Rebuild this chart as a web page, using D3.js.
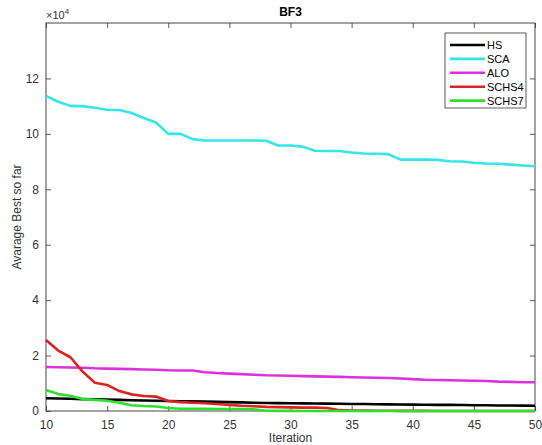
<!DOCTYPE html>
<html><head><meta charset="utf-8">
<script src="https://cdn.jsdelivr.net/npm/d3@7"></script>
<style>
html,body{margin:0;padding:0;background:#fff;}
svg{display:block;font-family:"Liberation Sans",Arial,Helvetica,sans-serif;}
</style></head>
<body><svg id="chart" width="542" height="445"></svg>
<script>
const iterations = d3.range(10, 51);
const HS = [4600,4500,4400,4300,4200,4100,4000,3900,3800,3700,3600,3500,3500,3400,3300,3200,3100,3000,2900,2850,2800,2750,2700,2650,2600,2550,2500,2450,2400,2350,2300,2250,2200,2200,2150,2100,2050,2000,2000,1950,1900];
const SCA = [113700,111600,110100,110000,109400,108700,108600,107500,105700,104100,100000,100000,98100,97600,97600,97600,97600,97600,97500,95800,95800,95400,93900,93800,93800,93300,92900,92800,92700,90700,90700,90700,90600,90100,90000,89600,89300,89200,88900,88600,88300];
const ALO = [15900,15800,15700,15600,15400,15300,15200,15100,15000,14900,14700,14600,14600,14000,13700,13500,13300,13100,12900,12800,12700,12600,12500,12400,12300,12200,12100,12000,11900,11700,11500,11300,11200,11100,11000,10900,10800,10600,10500,10400,10400];
const SCHS4 = [25600,21800,19400,14200,10200,9400,7200,6000,5400,5200,3600,3200,3000,2800,2500,2200,1900,1700,1500,1400,1300,1200,1200,1100,300,200,150,100,80,50,40,30,20,20,10,10,10,10,10,10,10];
const SCHS7 = [7600,6100,5500,4300,4000,3700,3000,2100,1800,1600,1100,800,800,800,700,700,700,600,100,50,30,20,20,10,10,10,10,10,10,10,10,10,10,10,10,10,10,10,10,10,10];
const seriesNames = ["HS","SCA","ALO","SCHS4","SCHS7"];
const seriesColors = ["#000000","#35e6e6","#dc32dc","#dc2222","#2ee02e"];
const xTicks = [10,15,20,25,30,35,40,45,50];
const yTicks = [0,20000,40000,60000,80000,100000,120000];
const title = "BF3";
const xLabel = "Iteration";
const yLabel = "Avarage Best so far";

const seriesData = [HS, SCA, ALO, SCHS4, SCHS7];
const svg = d3.select("#chart");
const L = 46, R = 535, T = 23, B = 411;
const x = d3.scaleLinear().domain([10, 50]).range([L, R]);
const y = d3.scaleLinear().domain([0, 140000]).range([B, T]);
const axisColor = "#333";

// axes
const gx = svg.append("g").attr("transform", `translate(0,${B})`)
  .call(d3.axisBottom(x).tickValues(xTicks).tickSizeInner(-5).tickSizeOuter(0).tickPadding(9));
const gxTop = svg.append("g").attr("transform", `translate(0,${T})`)
  .call(d3.axisTop(x).tickValues(xTicks).tickSizeInner(-5).tickSizeOuter(0).tickFormat(""));
const gy = svg.append("g").attr("transform", `translate(${L},0)`)
  .call(d3.axisLeft(y).tickValues(yTicks).tickSizeInner(-5).tickSizeOuter(0).tickPadding(7).tickFormat(d => d / 10000));
const gyR = svg.append("g").attr("transform", `translate(${R},0)`)
  .call(d3.axisRight(y).tickValues(yTicks).tickSizeInner(-5).tickSizeOuter(0).tickFormat(""));
[gx, gxTop, gy, gyR].forEach(g => {
  g.select(".domain").remove();
  g.selectAll("line").attr("stroke", axisColor).attr("stroke-width", 0.8);
  g.selectAll("text").attr("fill", "#333").style("font-size", "12px")
    .style("font-family", '"Liberation Sans",Arial,sans-serif');
});
svg.append("rect").attr("x", L).attr("y", T).attr("width", R - L).attr("height", B - T)
  .attr("fill", "none").attr("stroke", axisColor).attr("stroke-width", 0.9);

// lines
const line = d3.line().x((d, i) => x(iterations[i])).y(d => y(d));
seriesData.forEach((s, k) => {
  svg.append("path").datum(s).attr("d", line)
    .attr("fill", "none").attr("stroke", seriesColors[k]).attr("stroke-width", 2.6)
    .attr("stroke-linejoin", "round").attr("stroke-linecap", "butt");
});

// title, labels
svg.append("text").attr("x", (L + R) / 2).attr("y", 16).attr("text-anchor", "middle")
  .style("font-size", "12px").style("font-weight", "bold").attr("fill", "#000").text(title);
svg.append("text").attr("x", (L + R) / 2).attr("y", 442).attr("text-anchor", "middle")
  .style("font-size", "12px").attr("fill", "#333").text(xLabel);
svg.append("text").attr("transform", `translate(21,${(T + B) / 2}) rotate(-90)`).attr("text-anchor", "middle")
  .style("font-size", "12px").attr("fill", "#333").text(yLabel);
const mult = svg.append("text").attr("x", 46).attr("y", 19).style("font-size", "11px").attr("fill", "#333");
mult.append("tspan").text("\u00d710");
mult.append("tspan").attr("dy", -5).style("font-size", "8px").text("4");

// legend
const lg = svg.append("g");
lg.append("rect").attr("x", 445).attr("y", 33).attr("width", 81).attr("height", 75)
  .attr("fill", "#fff").attr("stroke", axisColor).attr("stroke-width", 0.8);
seriesNames.forEach((n, k) => {
  const yy = 45 + k * 13.9;
  lg.append("line").attr("x1", 450).attr("x2", 485).attr("y1", yy).attr("y2", yy)
    .attr("stroke", seriesColors[k]).attr("stroke-width", 2.6);
  lg.append("text").attr("x", 487).attr("y", yy + 4).style("font-size", "11px").attr("fill", "#000").text(n);
});
</script></body></html>
